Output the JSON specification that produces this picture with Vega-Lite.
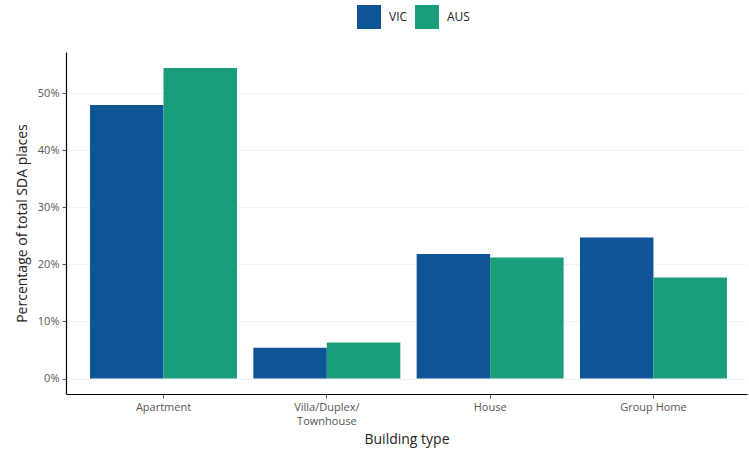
{
  "$schema": "https://vega.github.io/schema/vega-lite/v6.json",
  "width": 681,
  "height": 342,
  "autosize": {"type": "none"},
  "padding": {"left": 66, "top": 52, "right": 2, "bottom": 60},
  "background": "white",
  "data": {
    "values": [
      {"type": "Apartment", "region": "VIC", "pct": 0.479},
      {"type": "Apartment", "region": "AUS", "pct": 0.544},
      {"type": "Villa/Duplex/Townhouse", "region": "VIC", "pct": 0.054},
      {"type": "Villa/Duplex/Townhouse", "region": "AUS", "pct": 0.063},
      {"type": "House", "region": "VIC", "pct": 0.218},
      {"type": "House", "region": "AUS", "pct": 0.212},
      {"type": "Group Home", "region": "VIC", "pct": 0.247},
      {"type": "Group Home", "region": "AUS", "pct": 0.177}
    ]
  },
  "mark": {"type": "bar"},
  "encoding": {
    "x": {
      "field": "type",
      "type": "nominal",
      "sort": ["Apartment", "Villa/Duplex/Townhouse", "House", "Group Home"],
      "scale": {"paddingInner": 0.1, "paddingOuter": 0.135, "align": 0.545},
      "axis": {
        "title": "Building type",
        "labelAngle": 0,
        "labelExpr": "datum.label == 'Villa/Duplex/Townhouse' ? ['Villa/Duplex/', 'Townhouse'] : datum.label",
        "labelFont": "Open Sans",
        "labelFontSize": 11,
        "labelColor": "#555555",
        "labelPadding": 3,
        "labelLineHeight": 14,
        "titleFont": "Open Sans",
        "titleFontSize": 14,
        "titleFontWeight": "normal",
        "titleColor": "#222222",
        "titlePadding": 6,
        "domainColor": "#000000",
        "domainWidth": 1.2,
        "tickColor": "#555555",
        "tickSize": 4,
        "grid": false
      }
    },
    "xOffset": {"field": "region", "type": "nominal", "sort": ["VIC", "AUS"], "scale": {"paddingInner": 0, "paddingOuter": 0}},
    "y": {
      "field": "pct",
      "type": "quantitative",
      "scale": {"domain": [-0.027, 0.572], "nice": false, "zero": false},
      "axis": {
        "title": "Percentage of total SDA places",
        "values": [0, 0.1, 0.2, 0.3, 0.4, 0.5],
        "format": ".0%",
        "labelFont": "Open Sans",
        "labelFontSize": 11,
        "labelColor": "#555555",
        "labelPadding": 3,
        "titleFont": "Open Sans",
        "titleFontSize": 14,
        "titleFontWeight": "normal",
        "titleColor": "#222222",
        "titlePadding": 8,
        "domainColor": "#000000",
        "domainWidth": 1.2,
        "tickColor": "#555555",
        "tickSize": 4,
        "grid": true,
        "gridColor": "#f2f2f2"
      }
    },
    "y2": {"datum": 0},
    "color": {
      "field": "region",
      "type": "nominal",
      "sort": ["VIC", "AUS"],
      "scale": {"domain": ["VIC", "AUS"], "range": ["#0E5596", "#1A9D7A"]},
      "legend": {
        "title": null,
        "orient": "none",
        "direction": "horizontal",
        "legendX": 291,
        "legendY": -47,
        "symbolType": "square",
        "symbolSize": 576,
        "symbolStrokeWidth": 0,
        "symbolOpacity": 1,
        "labelFont": "Open Sans",
        "labelFontSize": 12,
        "labelColor": "#222222",
        "columnPadding": 7,
        "labelOffset": 8
      }
    }
  },
  "config": {"view": {"stroke": null}}
}
